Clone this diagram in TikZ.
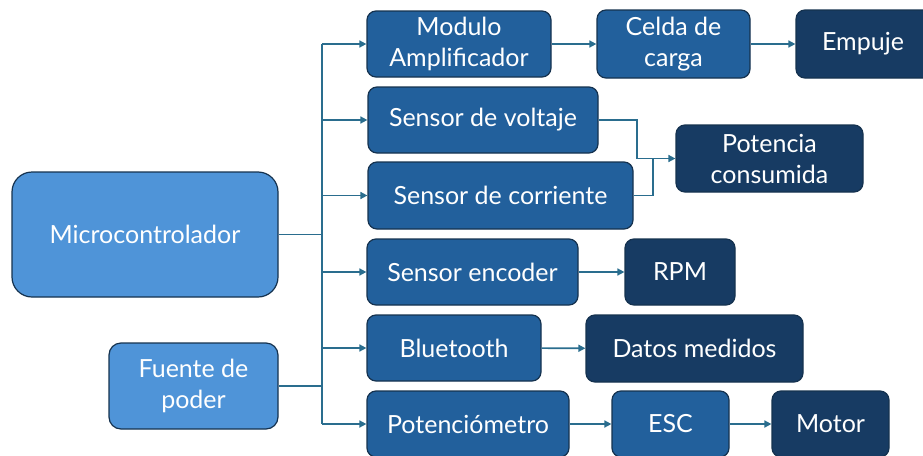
\documentclass[tikz,border=0pt]{standalone}
\usepackage{fontspec}
\setmainfont{Lato}
\usetikzlibrary{arrows.meta}
\definecolor{lightblk}{HTML}{4F94D8}
\definecolor{midblk}{HTML}{22609C}
\definecolor{darkblk}{HTML}{173B63}
\definecolor{edgeblk}{HTML}{15324F}
\definecolor{wireblk}{HTML}{2A6D8E}
\tikzset{
  boxfont/.style={font=\fontsize{25}{31}\selectfont},
  box/.style={draw=edgeblk, line width=1.2pt, rounded corners=9pt, text=white,
    boxfont, align=center, inner sep=0pt},
  lightbox/.style={box, fill=lightblk},
  midbox/.style={box, fill=midblk},
  darkbox/.style={box, fill=darkblk},
  wire/.style={draw=wireblk, line width=1.6pt},
  arrow/.style={wire, -{Triangle[length=7pt,width=7pt]}},
}
\begin{document}
\begin{tikzpicture}[x=1pt,y=-1pt]
\useasboundingbox (0,0) rectangle (923,455);
\clip (0,0) rectangle (923,455);
% source blocks
\node[lightbox, rounded corners=20pt, minimum width=266, minimum height=125] (mcu) at (145,234.5) {Microcontrolador};
\node[lightbox, rounded corners=12pt, minimum width=169, minimum height=86] (src) at (193.5,386) {Fuente de\\poder};
% first column
\node[midbox, minimum width=184, minimum height=66] (amp) at (459,44) {Modulo\\Amplificador};
\node[midbox, minimum width=230, minimum height=66] (vol) at (483,120) {Sensor de voltaje};
\node[midbox, minimum width=265, minimum height=67] (cur) at (500.5,195.5) {Sensor de corriente};
\node[midbox, minimum width=211, minimum height=66] (enc) at (472.5,272) {Sensor encoder};
\node[midbox, minimum width=174, minimum height=66] (bt) at (454,348) {Bluetooth};
\node[midbox, minimum width=202, minimum height=66] (pot) at (468,424) {Potenciómetro};
% downstream blocks
\node[midbox, minimum width=153, minimum height=68] (cel) at (673.5,44) {Celda de\\carga};
\node[darkbox, minimum width=150, minimum height=68] (emp) at (871,44) {};
\node[text=white, boxfont] (empt) at (863,44) {Empuje};
\node[darkbox, minimum width=187, minimum height=67] (pw) at (769.5,158.5) {Potencia\\consumida};
\node[darkbox, minimum width=110, minimum height=66] (rpm) at (680,272) {RPM};
\node[darkbox, minimum width=217, minimum height=67] (dat) at (694.5,348.5) {Datos medidos};
\node[midbox, minimum width=117, minimum height=66] (esc) at (670.5,424) {ESC};
\node[darkbox, minimum width=117, minimum height=66] (mot) at (830.5,424) {Motor};
% bus
\coordinate (bt0) at (322,44);
\coordinate (bt1) at (322,424);
\draw[wire] (bt0) -- (bt1);
\draw[wire] (mcu.east) -- (mcu.east -| bt0);
\draw[wire] (src.east) -- (src.east -| bt0);
\foreach \n in {amp,vol,cur,enc,bt,pot}
  \draw[arrow] (\n.west -| bt0) -- (\n.west);
% chains
\draw[arrow] (amp) -- (cel);
\draw[arrow] (cel) -- (emp);
\draw[arrow] (enc) -- (rpm);
\draw[arrow] (bt) -- (dat);
\draw[arrow] (pot) -- (esc);
\draw[arrow] (esc) -- (mot);
% power merge
\coordinate (mj) at (653,158.5);
\draw[wire] (vol.east) -| (637,158.5) -- (mj);
\draw[wire] (cur.east) -| (mj);
\draw[arrow] (mj) -- (pw.west);
\end{tikzpicture}
\end{document}
